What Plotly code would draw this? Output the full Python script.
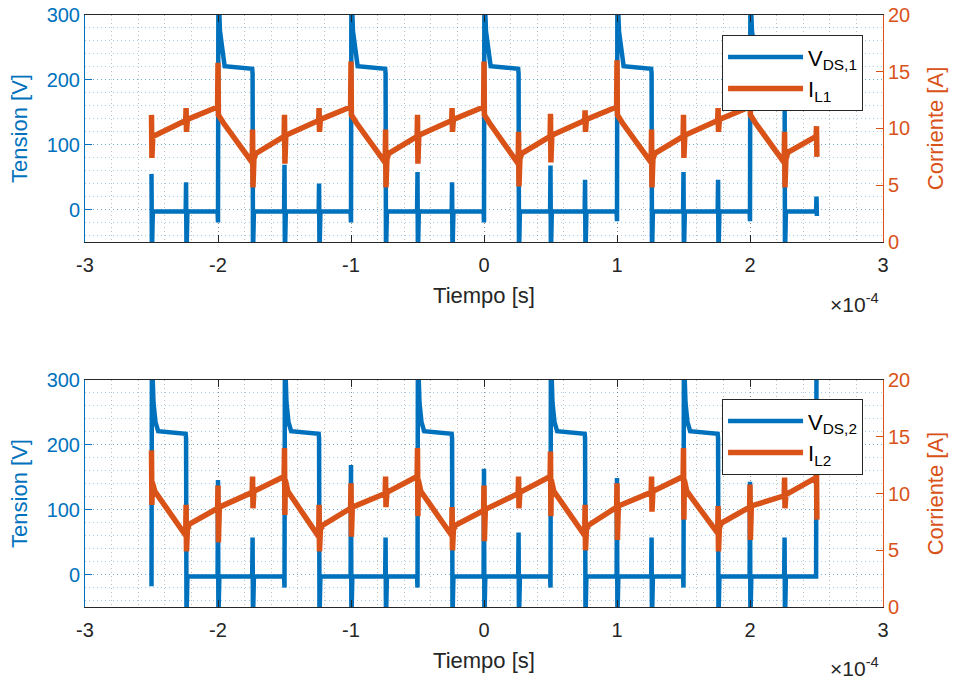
import plotly.graph_objects as go

# ---------------- data (time in units of 1e-4 s) ----------------
x_tick_values = [-3, -2, -1, 0, 1, 2, 3]
x_tick_labels = ["-3", "-2", "-1", "0", "1", "2", "3"]
v_tick_values = [0, 100, 200, 300]
i_tick_values = [0, 5, 10, 15, 20]

# V_DS,1 (top) : (t, volts)
vds1 = [
    (-2.500, 55), (-2.497, -70), (-2.490, -3),
    (-2.243, -3), (-2.240, 42), (-2.237, -70), (-2.230, -3),
    (-2.003, -3), (-2.000, -20), (-1.997, 340), (-1.985, 275), (-1.970, 245), (-1.950, 221), (-1.743, 217), (-1.740, 210), (-1.737, -70), (-1.730, -3),
    (-1.503, -3), (-1.500, 69), (-1.497, -70), (-1.490, -3),
    (-1.243, -3), (-1.240, 40), (-1.237, -70), (-1.230, -3),
    (-1.003, -3), (-1.000, -20), (-0.997, 340), (-0.985, 275), (-0.970, 245), (-0.950, 221), (-0.743, 217), (-0.740, 210), (-0.737, -70), (-0.730, -3),
    (-0.503, -3), (-0.500, 58), (-0.497, -70), (-0.490, -3),
    (-0.243, -3), (-0.240, 42), (-0.237, -70), (-0.230, -3),
    (-0.003, -3), (0.000, -20), (0.003, 340), (0.015, 275), (0.030, 245), (0.050, 221), (0.257, 217), (0.260, 210), (0.263, -70), (0.270, -3),
    (0.497, -3), (0.500, 68), (0.503, -70), (0.510, -3),
    (0.757, -3), (0.760, 46), (0.763, -70), (0.770, -3),
    (0.997, -3), (1.000, -18), (1.003, 340), (1.015, 275), (1.030, 245), (1.050, 221), (1.257, 217), (1.260, 210), (1.263, -70), (1.270, -3),
    (1.497, -3), (1.500, 58), (1.503, -70), (1.510, -3),
    (1.757, -3), (1.760, 46), (1.763, -70), (1.770, -3),
    (1.997, -3), (2.000, -18), (2.003, 340), (2.015, 275), (2.030, 245), (2.050, 221), (2.257, 217), (2.260, 210), (2.263, -70), (2.270, -3),
    (2.497, -3), (2.500, 20), (2.503, -10),
]

# I_L1 (top) : (t, amps)
il1 = [
    (-2.500, 11.2), (-2.497, 7.4), (-2.490, 9.3),
    (-2.243, 10.7), (-2.240, 11.8), (-2.237, 9.7), (-2.230, 10.8),
    (-2.003, 11.9), (-2.000, 15.8), (-1.997, 11.2), (-1.960, 10.5),
    (-1.743, 7.0), (-1.740, 9.9), (-1.737, 4.8), (-1.730, 7.3), (-1.715, 7.8),
    (-1.503, 9.3), (-1.500, 11.2), (-1.497, 6.9), (-1.490, 9.4),
    (-1.243, 10.7), (-1.240, 11.8), (-1.237, 9.7), (-1.230, 10.8),
    (-1.003, 11.9), (-1.000, 15.9), (-0.997, 11.2), (-0.960, 10.5),
    (-0.743, 7.0), (-0.740, 9.9), (-0.737, 4.8), (-0.730, 7.3), (-0.715, 7.8),
    (-0.503, 9.3), (-0.500, 11.2), (-0.497, 6.9), (-0.490, 9.4),
    (-0.243, 10.7), (-0.240, 11.8), (-0.237, 9.7), (-0.230, 10.8),
    (-0.003, 11.9), (0.000, 15.9), (0.003, 11.2), (0.040, 10.5),
    (0.257, 6.9), (0.260, 9.7), (0.263, 4.9), (0.270, 7.3), (0.285, 7.8),
    (0.497, 9.3), (0.500, 11.3), (0.503, 7.0), (0.510, 9.4),
    (0.757, 10.7), (0.760, 11.6), (0.763, 9.7), (0.770, 10.8),
    (0.997, 11.9), (1.000, 16.0), (1.003, 11.2), (1.040, 10.5),
    (1.257, 7.0), (1.260, 9.9), (1.263, 4.8), (1.270, 7.3), (1.285, 7.8),
    (1.497, 9.3), (1.500, 11.2), (1.503, 7.4), (1.510, 9.4),
    (1.757, 10.7), (1.760, 11.8), (1.763, 9.7), (1.770, 10.8),
    (1.997, 11.9), (2.000, 15.8), (2.003, 11.2), (2.040, 10.5),
    (2.257, 7.0), (2.260, 9.7), (2.263, 4.8), (2.270, 7.3), (2.285, 7.9),
    (2.497, 9.3), (2.500, 10.2), (2.503, 7.5),
]

# V_DS,2 (bottom) : (t, volts)
vds2 = [
    (-2.500, -18), (-2.497, 340), (-2.485, 265), (-2.470, 235), (-2.450, 221), (-2.243, 217), (-2.240, 210), (-2.237, -70), (-2.230, -3),
    (-2.003, -3), (-2.000, 146), (-1.997, -70), (-1.990, -3),
    (-1.743, -3), (-1.740, 57), (-1.737, -70), (-1.730, -3),
    (-1.503, -3), (-1.500, -20), (-1.497, 340), (-1.485, 265), (-1.470, 235), (-1.450, 221), (-1.243, 217), (-1.240, 210), (-1.237, -70), (-1.230, -3),
    (-1.003, -3), (-1.000, 169), (-0.997, -70), (-0.990, -3),
    (-0.743, -3), (-0.740, 57), (-0.737, -70), (-0.730, -3),
    (-0.503, -3), (-0.500, -20), (-0.497, 340), (-0.485, 265), (-0.470, 235), (-0.450, 221), (-0.243, 217), (-0.240, 210), (-0.237, -70), (-0.230, -3),
    (-0.003, -3), (0.000, 163), (0.003, -70), (0.010, -3),
    (0.257, -3), (0.260, 65), (0.263, -70), (0.270, -3),
    (0.497, -3), (0.500, -20), (0.503, 340), (0.515, 265), (0.530, 235), (0.550, 221), (0.757, 217), (0.760, 210), (0.763, -70), (0.770, -3),
    (0.997, -3), (1.000, 149), (1.003, -70), (1.010, -3),
    (1.257, -3), (1.260, 57), (1.263, -70), (1.270, -3),
    (1.497, -3), (1.500, -20), (1.503, 340), (1.515, 265), (1.530, 235), (1.550, 221), (1.757, 217), (1.760, 210), (1.763, -70), (1.770, -3),
    (1.997, -3), (2.000, 143), (2.003, -70), (2.010, -3),
    (2.257, -3), (2.260, 57), (2.263, -70), (2.270, -3),
    (2.497, -3), (2.500, 340),
]

# I_L2 (bottom) : (t, amps)
il2 = [
    (-2.500, 13.8), (-2.497, 9.0), (-2.494, 11.0), (-2.475, 10.2),
    (-2.243, 6.3), (-2.240, 9.0), (-2.237, 4.9), (-2.230, 6.8), (-2.215, 7.3),
    (-2.003, 8.7), (-2.000, 10.7), (-1.997, 5.7), (-1.990, 8.8),
    (-1.743, 10.1), (-1.740, 11.5), (-1.737, 8.7), (-1.730, 10.2),
    (-1.503, 11.5), (-1.500, 14.0), (-1.497, 8.1), (-1.494, 11.2), (-1.475, 10.2),
    (-1.243, 6.2), (-1.240, 9.0), (-1.237, 4.9), (-1.230, 6.8), (-1.215, 7.2),
    (-1.003, 8.7), (-1.000, 10.9), (-0.997, 6.2), (-0.990, 8.8),
    (-0.743, 10.0), (-0.740, 11.5), (-0.737, 8.8), (-0.730, 10.1),
    (-0.503, 11.5), (-0.500, 14.0), (-0.497, 8.0), (-0.494, 11.2), (-0.475, 10.2),
    (-0.243, 6.3), (-0.240, 8.8), (-0.237, 5.0), (-0.230, 6.8), (-0.215, 7.2),
    (-0.003, 8.5), (0.000, 10.7), (0.003, 5.8), (0.010, 8.6),
    (0.257, 10.0), (0.260, 11.5), (0.263, 8.7), (0.270, 10.1),
    (0.497, 11.5), (0.500, 13.7), (0.503, 8.0), (0.506, 11.2), (0.525, 10.2),
    (0.757, 6.3), (0.760, 9.0), (0.763, 5.0), (0.770, 6.8), (0.785, 7.2),
    (0.997, 8.8), (1.000, 10.9), (1.003, 5.9), (1.010, 8.9),
    (1.257, 10.1), (1.260, 11.5), (1.263, 8.4), (1.270, 10.2),
    (1.497, 11.5), (1.500, 14.0), (1.503, 7.7), (1.506, 11.2), (1.525, 10.2),
    (1.757, 6.5), (1.760, 8.9), (1.763, 4.9), (1.770, 7.0), (1.785, 7.4),
    (1.997, 8.8), (2.000, 10.8), (2.003, 5.9), (2.010, 8.9),
    (2.257, 9.8), (2.260, 11.4), (2.263, 8.7), (2.270, 9.9),
    (2.497, 11.4), (2.500, 12.1), (2.503, 7.7),
]

TIME_UNIT = 1e-4

# ---------------- styling ----------------
BLUE = "#0072BD"
ORANGE = "#D95319"
AX = "#262626"
FONT = "Liberation Sans, Arial, sans-serif"
DOT = "1px,3px"
GRID_X = "rgba(38,38,38,0.30)"
GRID_Y = "rgba(0,114,189,0.35)"
TICK_SIZE = 20
LABEL_SIZE = 22


def split(pairs):
    return [p[0] * TIME_UNIT for p in pairs], [p[1] for p in pairs]


fig = go.Figure()
t, v = split(vds1)
fig.add_trace(go.Scatter(x=t, y=v, mode="lines", name="V<sub>DS,1</sub>",
                         line=dict(color=BLUE, width=4.5), xaxis="x", yaxis="y", legend="legend"))
t, v = split(il1)
fig.add_trace(go.Scatter(x=t, y=v, mode="lines", name="I<sub>L1</sub>",
                         line=dict(color=ORANGE, width=5.5), xaxis="x", yaxis="y2", legend="legend"))
t, v = split(vds2)
fig.add_trace(go.Scatter(x=t, y=v, mode="lines", name="V<sub>DS,2</sub>",
                         line=dict(color=BLUE, width=4.5), xaxis="x2", yaxis="y3", legend="legend2"))
t, v = split(il2)
fig.add_trace(go.Scatter(x=t, y=v, mode="lines", name="I<sub>L2</sub>",
                         line=dict(color=ORANGE, width=5.5), xaxis="x2", yaxis="y4", legend="legend2"))


def xaxis(anchor):
    return dict(
        anchor=anchor, range=[-3 * TIME_UNIT, 3 * TIME_UNIT],
        tickvals=[x * TIME_UNIT for x in x_tick_values], ticktext=x_tick_labels,
        ticks="inside", ticklen=7, tickcolor=AX, tickwidth=1, ticklabelstandoff=5,
        ticklabeloverflow="allow",
        showline=True, linecolor=AX, linewidth=1, mirror="ticks",
        showgrid=True, gridcolor=GRID_X, griddash=DOT, gridwidth=1,
        minor=dict(dtick=0.2 * TIME_UNIT, tick0=0, showgrid=True,
                   gridcolor=GRID_X, griddash=DOT, gridwidth=1),
        zeroline=False, automargin=False,
        tickfont=dict(size=TICK_SIZE, color=AX, family=FONT),
        title=dict(text="Tiempo [s]", font=dict(size=LABEL_SIZE, color=AX, family=FONT), standoff=12),
    )


def yleft(domain, anchor):
    return dict(
        domain=domain, anchor=anchor, range=[-50, 300], tickvals=v_tick_values,
        ticks="inside", ticklen=7, tickcolor=BLUE, showline=True, linecolor=BLUE, linewidth=1,
        ticklabeloverflow="allow",
        showgrid=True, gridcolor=GRID_Y, griddash=DOT, gridwidth=1,
        minor=dict(dtick=20, tick0=0, showgrid=True, gridcolor=GRID_Y, griddash=DOT, gridwidth=1),
        zeroline=False, automargin=False,
        tickfont=dict(size=TICK_SIZE, color=BLUE, family=FONT),
        title=dict(text="Tension [V]", font=dict(size=LABEL_SIZE, color=BLUE, family=FONT), standoff=12),
    )


def yright(overlay, anchor):
    return dict(
        overlaying=overlay, anchor=anchor, side="right", range=[0, 20], tickvals=i_tick_values,
        ticks="inside", ticklen=7, tickcolor=ORANGE, showline=True, linecolor=ORANGE, linewidth=1,
        ticklabeloverflow="allow",
        showgrid=False, zeroline=False, automargin=False,
        tickfont=dict(size=TICK_SIZE, color=ORANGE, family=FONT),
        title=dict(text="Corriente [A]", font=dict(size=LABEL_SIZE, color=ORANGE, family=FONT), standoff=18),
    )


legend_style = dict(xanchor="right", yanchor="top", bgcolor="white", bordercolor=AX, borderwidth=1,
                    font=dict(size=22, color="black", family=FONT), itemwidth=75,
                    tracegroupgap=0)

fig.update_layout(
    width=954, height=680,
    margin=dict(l=85, r=71, t=15, b=73),
    paper_bgcolor="white", plot_bgcolor="white",
    font=dict(family=FONT, color=AX),
    xaxis=xaxis("y"),
    xaxis2=xaxis("y3"),
    yaxis=yleft([0.6166, 1.0], "x"),
    yaxis2=yright("y", "x"),
    yaxis3=yleft([0.0, 0.3834], "x2"),
    yaxis4=yright("y3", "x2"),
    legend=dict(x=0.975, y=0.966, **legend_style),
    legend2=dict(x=0.975, y=0.351, **legend_style),
    annotations=[
        dict(text="×10<sup>-4</sup>", xref="paper", yref="paper", x=0.997, y=0.5135,
             xanchor="right", yanchor="middle", showarrow=False,
             font=dict(size=21, color=AX, family=FONT)),
        dict(text="×10<sup>-4</sup>", xref="paper", yref="paper", x=0.997, y=-0.101,
             xanchor="right", yanchor="middle", showarrow=False,
             font=dict(size=21, color=AX, family=FONT)),
    ],
)

# remove the browser's default 8 px body margin so the figure fills the window exactly
fig.write_html("out.html", config={"displayModeBar": False},
               post_script="document.body.style.margin='0';")
